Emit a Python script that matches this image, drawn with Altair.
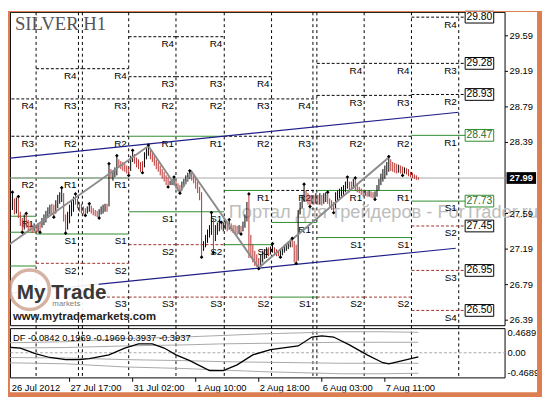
import altair as alt
import pandas as pd

# ---------------- data ----------------
HIGH = [
    27.39, 27.54, 27.72, 27.82, 27.76, 27.77, 27.77, 27.61, 27.54, 27.58,
    27.58, 27.52, 27.49, 27.46, 27.48, 27.46, 27.48, 27.49, 27.54, 27.58,
    27.62, 27.66, 27.69, 27.70, 27.69, 27.74, 27.80, 27.83, 27.87, 27.82,
    27.58, 27.61, 27.69, 27.74, 27.78, 27.80, 27.76, 27.72, 27.70, 27.67,
    27.65, 27.67, 27.69, 27.68, 27.65, 27.63, 27.62, 27.64, 27.67, 27.69,
    27.70, 27.70, 28.14, 28.09, 28.07, 28.11, 28.23, 28.20, 28.18, 28.17,
    28.15, 28.13, 28.11, 28.24, 28.29, 28.26, 28.22, 28.20, 28.17, 28.18,
    28.28, 28.33, 28.35, 28.31, 28.28, 28.24, 28.20, 28.17, 28.13, 28.09,
    28.06, 28.02, 28.00, 27.96, 27.98, 27.99, 27.96, 27.93, 27.91, 27.95,
    27.98, 28.02, 28.05, 28.06, 28.06, 28.03, 27.99, 27.95, 27.89, 27.83,
    27.28, 27.35, 27.41, 27.46, 27.59, 27.54, 27.46, 27.49, 27.52, 27.48,
    27.49, 27.51, 27.50, 27.51, 27.48, 27.46, 27.46, 27.45, 27.46, 27.45,
    27.50, 27.58, 27.72, 27.80, 27.35, 27.24, 27.17, 27.13, 27.09, 27.13,
    27.17, 27.19, 27.21, 27.21, 27.22, 27.24, 27.21, 27.19, 27.18, 27.19,
    27.21, 27.24, 27.26, 27.28, 27.30, 27.30, 27.28, 27.24, 27.63, 27.72,
    27.80, 27.91, 27.85, 27.82, 27.80, 27.80, 27.80, 27.82, 27.80, 27.82,
    27.80, 27.82, 27.83, 27.82, 27.76, 27.74, 27.72, 27.83, 27.85, 27.87,
    27.89, 27.91, 27.95, 27.99, 27.95, 27.95, 27.98, 27.98, 27.93, 27.89,
    27.87, 27.85, 27.85, 27.84, 27.85, 27.84, 27.83, 27.84, 27.91, 27.98,
    28.04, 28.09, 28.13, 28.17, 28.22, 28.20, 28.17, 28.16, 28.15, 28.14,
    28.13, 28.12, 28.11, 28.10, 28.09, 28.06, 28.05, 28.03, 28.02, 28.00,
]
LOW = [
    27.22, 27.35, 27.52, 27.63, 27.58, 27.59, 27.54, 27.45, 27.39, 27.41,
    27.43, 27.39, 27.39, 27.37, 27.39, 27.37, 27.38, 27.39, 27.43, 27.46,
    27.49, 27.54, 27.58, 27.58, 27.56, 27.59, 27.65, 27.70, 27.72, 27.50,
    27.38, 27.41, 27.48, 27.56, 27.61, 27.69, 27.65, 27.61, 27.59, 27.58,
    27.58, 27.59, 27.61, 27.59, 27.57, 27.56, 27.55, 27.55, 27.58, 27.59,
    27.61, 27.61, 27.67, 27.98, 27.96, 28.00, 28.02, 28.11, 28.09, 28.07,
    28.06, 28.04, 28.03, 28.07, 28.17, 28.15, 28.11, 28.09, 28.06, 28.06,
    28.11, 28.20, 28.24, 28.20, 28.17, 28.13, 28.09, 28.06, 28.02, 27.98,
    27.95, 27.91, 27.90, 27.91, 27.91, 27.91, 27.87, 27.84, 27.83, 27.85,
    27.89, 27.92, 27.95, 27.98, 27.96, 27.93, 27.87, 27.82, 27.74, 27.11,
    27.17, 27.21, 27.26, 27.32, 27.35, 27.16, 27.28, 27.35, 27.39, 27.41,
    27.39, 27.41, 27.39, 27.41, 27.39, 27.37, 27.37, 27.35, 27.36, 27.37,
    27.39, 27.43, 27.50, 27.09, 27.09, 27.04, 27.00, 26.99, 26.98, 27.00,
    27.04, 27.08, 27.09, 27.11, 27.13, 27.15, 27.12, 27.11, 27.11, 27.11,
    27.12, 27.15, 27.17, 27.19, 27.21, 27.21, 27.04, 27.04, 27.06, 27.58,
    27.65, 27.72, 27.72, 27.69, 27.68, 27.70, 27.69, 27.70, 27.69, 27.69,
    27.68, 27.70, 27.72, 27.70, 27.67, 27.63, 27.61, 27.65, 27.72, 27.76,
    27.78, 27.80, 27.83, 27.87, 27.83, 27.85, 27.87, 27.85, 27.83, 27.82,
    27.80, 27.78, 27.79, 27.78, 27.78, 27.77, 27.76, 27.76, 27.78, 27.85,
    27.91, 27.95, 27.98, 28.02, 28.06, 28.07, 28.06, 28.05, 28.04, 28.05,
    28.04, 28.03, 28.04, 28.03, 28.01, 28.00, 27.99, 27.98, 27.97, 27.97,
]
DIRECTION = (
    "uuuu" "duddduddddudud" "uuuuu" "dd" "uuuu" "dd" "uuuu" "dddddd" "uu" "dddd"
    "uuuu" "d" "u" "d" "uuu" "dddddd" "uu" "ddddd" "uuu" "dddddddddd" "uuu" "ddd"
    "uuuuu" "dddddd" "uuuuu" "d" "uuu" "d" "uu" "d" "u" "dddd" "u" "d" "uuu"
    "dddddd" "uuuu" "d" "uu" "ddd" "uuuuuu" "ddd" "uuuu" "ddd" "ududud" "uu"
    "dddd" "uuuuuuu" "dd" "u" "ddddd" "udu" "dd" "uuuuuuuu" "dddd" "u" "dd" "u"
    "ddddddd"
)
FRACTAL_HIGH = [3, 6, 10, 28, 35, 42, 52, 56, 64, 72, 85, 93, 104, 109, 113, 123,
                135, 145, 151, 163, 173, 177, 194]
FRACTAL_LOW = [8, 17, 24, 30, 40, 47, 62, 69, 82, 88, 99, 105, 119, 128, 139, 147,
               154, 166, 187, 201]

ZIGZAG_BAR = [0, 72, 88, 94, 128, 194]
ZIGZAG_PRICE = [27.22, 28.35, 27.83, 28.06, 26.98, 28.22]

CHANNEL_UP_BAR = [0, 229.5]
CHANNEL_UP_PRICE = [28.21, 28.73]
CHANNEL_LO_BAR = [0, 228]
CHANNEL_LO_PRICE = [26.69, 27.20]

DAY_SEPARATORS = [15, 36.5, 38.5, 62, 86, 110.5, 134.5, 155.5, 157.5, 181.5, 205.5, 229.5]
DAY_START = [0, 15, 38.5, 62, 86, 110.5, 134.5, 157.5, 181.5, 205.5]
DAY_END = [15, 38.5, 62, 86, 110.5, 134.5, 157.5, 181.5, 205.5, 233]
DAY_LABEL_AT = [15, 36.5, 62, 86, 110.5, 134.5, 155.5, 181.5, 205.5, 229.5]

# (label, price, style)  k = black dashed, r = brown dashed, g = green solid
PIVOTS = [
    [("R4", 28.88, "k"), ("R3", 28.46, "k"), ("R2", 27.99, "g"), ("R1", 27.56, "g"),
     ("", 27.38, "g"), ("", 27.00, "g"), ("", 26.65, "r")],
    [("R4", 29.22, "k"), ("R3", 28.88, "k"), ("R2", 28.46, "k"), ("R1", 27.99, "g"),
     ("S1", 27.36, "g"), ("S2", 27.03, "r"), ("", 26.65, "r")],
    [("R4", 29.22, "k"), ("R3", 28.88, "k"), ("R2", 28.46, "k"), ("R1", 27.99, "g"),
     ("S1", 27.36, "g"), ("S2", 27.03, "r"), ("S3", 26.65, "r")],
    [("R4", 29.58, "k"), ("R3", 29.13, "k"), ("R2", 28.88, "k"), ("R1", 28.46, "g"),
     ("S1", 27.61, "g"), ("S2", 27.24, "r"), ("S3", 26.65, "r")],
    [("R4", 29.58, "k"), ("R3", 29.13, "k"), ("R2", 28.88, "k"), ("R1", 28.46, "g"),
     ("S1", 27.61, "g"), ("S2", 27.24, "r"), ("S3", 26.65, "r")],
    [("R4", 29.13, "k"), ("R3", 28.88, "k"), ("R2", 28.46, "k"), ("R1", 27.85, "g"),
     ("S1", 27.24, "g"), ("S2", 26.65, "r")],
    [("R4", 28.88, "k"), ("R3", 28.46, "k"), ("R2", 27.85, "k"), ("R1", 27.49, "g"),
     ("S1", 26.65, "g")],
    [("R4", 29.28, "k"), ("R3", 28.92, "k"), ("R2", 28.46, "k"), ("R1", 27.85, "g"),
     ("S1", 27.32, "g"), ("S2", 26.65, "r")],
    [("R4", 29.28, "k"), ("R3", 28.92, "k"), ("R2", 28.46, "k"), ("R1", 27.85, "g"),
     ("S1", 27.32, "g"), ("S2", 26.65, "r")],
    [("R4", 29.80, "k"), ("R3", 29.28, "k"), ("R2", 28.93, "k"), ("R1", 28.47, "g"),
     ("S1", 27.73, "g"), ("S2", 27.45, "r"), ("S3", 26.95, "r"), ("S4", 26.50, "r")],
]

CURRENT_PRICE = 27.99
PRICE_TICKS = [29.59, 29.19, 28.79, 28.39, 27.59, 27.19, 26.79, 26.39]
TIME_TICK_BAR = [0, 32, 64, 96, 128, 160, 192]
TIME_TICK_TEXT = ["26 Jul 2012", "27 Jul 17:00", "31 Jul 02:00", "1 Aug 10:00",
                  "2 Aug 18:00", "6 Aug 03:00", "7 Aug 11:00"]

DF_BAR = [0, 7, 15, 22, 30, 37, 42, 52, 60, 67, 74, 80, 86, 93, 103, 110, 117, 125,
          134, 148, 155, 160, 166, 174, 183, 191, 194, 201, 209]
DF_VALUE = [0.11, 0.09, -0.02, -0.09, -0.13, -0.13, -0.11, -0.04, 0.09, 0.17, 0.17,
            0.09, -0.04, -0.15, -0.34, -0.34, -0.23, -0.04, 0.06, 0.13, 0.30, 0.32,
            0.30, 0.15, -0.04, -0.19, -0.21, -0.15, -0.08]
BAND_BAR = [0, 30, 60, 90, 110, 130, 150, 170, 190, 209]
BAND_UP2 = [0.19, 0.21, 0.27, 0.30, 0.33, 0.36, 0.38, 0.40, 0.40, 0.39]
BAND_UP1 = [0.09, 0.10, 0.13, 0.15, 0.17, 0.18, 0.19, 0.20, 0.20, 0.20]
BAND_LO1 = [-0.09, -0.10, -0.13, -0.15, -0.17, -0.18, -0.19, -0.20, -0.20, -0.20]
BAND_LO2 = [-0.19, -0.21, -0.27, -0.30, -0.33, -0.36, -0.38, -0.40, -0.40, -0.39]
DF_TEXT = "DF -0.0842 0.1969 -0.1969 0.3937 -0.3937"
DF_TICKS = [0.4689, 0.0, -0.4689]
DF_TICK_TEXT = ["0.4689", "0.00", "-0.4689"]

# ---------------- scales / helpers ----------------
W, H = 542, 392
X_DOM = [0.75, 271.75]          # 2 px per hourly bar
P_DOM = [25.5246, 29.8705]      # price panel
D_DOM = [-0.8443, 6.510]        # DF indicator panel
FONT = "Liberation Sans"
GREEN = "#2e8b2e"
BROWN = "#a0302a"
RED = "#b8312f"


def X(f):
    return alt.X(f, type="quantitative",
                 scale=alt.Scale(domain=X_DOM, nice=False, zero=False), axis=None)


def YP(f):
    return alt.Y(f, type="quantitative",
                 scale=alt.Scale(domain=P_DOM, nice=False, zero=False), axis=None)


def YD(f):
    return alt.Y(f, type="quantitative",
                 scale=alt.Scale(domain=D_DOM, nice=False, zero=False), axis=None)


one = pd.DataFrame({"k": [0]})


def rect(x1, x2, y1, y2, **kw):
    return alt.Chart(one).mark_rect(**kw).encode(
        x=alt.value(x1), x2=alt.value(x2), y=alt.value(y1), y2=alt.value(y2))


def label(txt, x, y, **kw):
    return alt.Chart(one).mark_text(text=txt, **kw).encode(x=alt.value(x), y=alt.value(y))


n = min(len(HIGH), len(LOW))
bars = pd.DataFrame({
    "i": list(range(n)),
    "hi": HIGH[:n],
    "lo": LOW[:n],
    "dir": [DIRECTION[k] if k < len(DIRECTION) else "d" for k in range(n)],
})
frac = pd.DataFrame(
    [{"i": k, "p": HIGH[k], "t": "h"} for k in FRACTAL_HIGH if k < n]
    + [{"i": k, "p": LOW[k], "t": "l"} for k in FRACTAL_LOW if k < n])

rows = []
for d, lv in enumerate(PIVOTS):
    for name, p, st in lv:
        rows.append({"x": DAY_START[d], "x2": DAY_END[d], "lx": DAY_LABEL_AT[d],
                     "p": p, "name": name, "st": st})
piv = pd.DataFrame(rows)

tags = pd.DataFrame({"p": [lv[1] for lv in PIVOTS[-1]], "st": [lv[2] for lv in PIVOTS[-1]]})
tags["txt"] = [f"{v:.2f}" for v in tags["p"]]

layers = []

# panel borders
layers.append(rect(2.5, 504.5, 1.5, 319.5, fill="white", stroke="black", strokeWidth=1))
layers.append(rect(2.5, 504.5, 322.5, 372.5, fill="white", stroke="black", strokeWidth=1))

# watermark
layers.append(label("Портал для трейдеров - ForTrader.ru", 224, 204, align="left",
                    baseline="middle", font=FONT, fontSize=18.5, color="#bdbdbd"))

# vertical day separators
layers.append(alt.Chart(pd.DataFrame({"i": DAY_SEPARATORS})).mark_rule(
    color="black", strokeWidth=1, strokeDash=[3, 3]).encode(
    x=X("i"), y=alt.value(1.5), y2=alt.value(372.5)))

# pivot lines
for st, col, dash in [("k", "black", [3, 2]), ("r", BROWN, [3, 2]), ("g", GREEN, None)]:
    sub = piv[piv["st"] == st]
    kw = {"color": col, "strokeWidth": 1}
    if dash:
        kw["strokeDash"] = dash
    layers.append(alt.Chart(sub).mark_rule(**kw).encode(x=X("x"), x2="x2:Q", y=YP("p")))

# pivot labels
layers.append(alt.Chart(piv[piv["name"] != ""]).mark_text(
    align="right", baseline="middle", dx=-2, dy=7.5, font=FONT, fontSize=10,
    color="black").encode(x=X("lx"), y=YP("p"), text="name:N"))

# current price line
layers.append(alt.Chart(pd.DataFrame({"p": [CURRENT_PRICE]})).mark_rule(
    color="#a8a8a8", strokeWidth=1).encode(x=alt.value(2.5), x2=alt.value(504.5), y=YP("p")))

# channel lines
layers.append(alt.Chart(pd.DataFrame({"i": CHANNEL_UP_BAR, "p": CHANNEL_UP_PRICE})).mark_line(
    color="#1f1f8a", strokeWidth=1.2).encode(x=X("i"), y=YP("p")))
layers.append(alt.Chart(pd.DataFrame({"i": CHANNEL_LO_BAR, "p": CHANNEL_LO_PRICE})).mark_line(
    color="#1f1f8a", strokeWidth=1.2).encode(x=X("i"), y=YP("p")))

# price bars
for dch, col in [("u", "black"), ("d", RED)]:
    layers.append(alt.Chart(bars[bars["dir"] == dch]).mark_rule(
        color=col, strokeWidth=1).encode(x=X("i"), y=YP("lo"), y2="hi:Q"))

# zigzag
layers.append(alt.Chart(pd.DataFrame({"i": ZIGZAG_BAR, "p": ZIGZAG_PRICE})).mark_line(
    color="#8c8c8c", strokeWidth=2).encode(x=X("i"), y=YP("p")))

# fractals
layers.append(alt.Chart(frac[frac["t"] == "h"]).mark_point(
    shape="diamond", filled=True, color="black", size=14, yOffset=-1, opacity=1).encode(
    x=X("i"), y=YP("p")))
layers.append(alt.Chart(frac[frac["t"] == "l"]).mark_point(
    shape="diamond", filled=True, color="black", size=14, yOffset=1, opacity=1).encode(
    x=X("i"), y=YP("p")))

# price tags of the current day levels
for st, col in [("k", "black"), ("r", "black"), ("g", GREEN)]:
    sub = tags[tags["st"] == st]
    layers.append(alt.Chart(sub).transform_calculate(
        top="datum.p + 0.066", bot="datum.p - 0.066").mark_rect(
        fill="white", stroke=col, strokeWidth=1).encode(
        x=alt.value(464), x2=alt.value(493), y=YP("top"), y2="bot:Q"))
    layers.append(alt.Chart(sub).mark_text(
        align="center", baseline="middle", font=FONT, fontSize=10.5,
        color=("#2a6e2a" if st == "g" else "black")).encode(
        x=alt.value(478.5), y=YP("p"), text="txt:N"))

# logo
layers.append(rect(3, 92, 268, 306, fill="white", opacity=0.92))
layers.append(rect(3, 50, 262, 268, fill="white", opacity=0.92))
layers.append(alt.Chart(one).mark_point(
    shape="circle", filled=False, size=1600, stroke="#cfa594", strokeWidth=3.5,
    opacity=0.85).encode(x=alt.value(22), y=alt.value(283)))
layers.append(label("My Trade", 9, 292, align="left", baseline="alphabetic", font=FONT,
                    fontSize=21, fontWeight="bold", color="#383838"))
layers.append(label("markets", 45, 298, align="left", baseline="middle", font=FONT,
                    fontSize=8, color="#808080"))
layers.append(label("www.mytrademarkets.com", 5, 311, align="left", baseline="middle",
                    font=FONT, fontSize=11.5, fontWeight="bold", color="#222222"))

# title
layers.append(label("SILVER H1", 7, 19, align="left", baseline="alphabetic",
                    font="Liberation Serif", fontSize=19, color="#555555"))

# right price axis
pt = pd.DataFrame({"p": PRICE_TICKS})
pt["txt"] = [f"{v:.2f}" for v in PRICE_TICKS]
layers.append(alt.Chart(pt).mark_rule(color="black", strokeWidth=1).encode(
    x=alt.value(504.5), x2=alt.value(507.5), y=YP("p")))
layers.append(alt.Chart(pt).mark_text(align="left", baseline="middle", font=FONT,
                                      fontSize=9.5, color="black").encode(
    x=alt.value(509), y=YP("p"), text="txt:N"))
cp = pd.DataFrame({"p": [CURRENT_PRICE], "txt": [f"{CURRENT_PRICE:.2f}"]})
layers.append(alt.Chart(cp).transform_calculate(
    top="datum.p + 0.066", bot="datum.p - 0.066").mark_rect(color="black").encode(
    x=alt.value(506), x2=alt.value(536), y=YP("top"), y2="bot:Q"))
layers.append(alt.Chart(cp).mark_text(align="left", baseline="middle", font=FONT,
                                      fontSize=9.5, fontWeight="bold", color="white").encode(
    x=alt.value(509), y=YP("p"), text="txt:N"))

# DF indicator panel
bands = pd.DataFrame({"i": BAND_BAR * 4,
                      "v": BAND_UP2 + BAND_UP1 + BAND_LO1 + BAND_LO2,
                      "g": ["a"] * 10 + ["b"] * 10 + ["c"] * 10 + ["d"] * 10})
layers.append(alt.Chart(bands).mark_line(color="#a8a8a8", strokeWidth=1).encode(
    x=X("i"), y=YD("v"), detail="g:N"))
layers.append(alt.Chart(pd.DataFrame({"v": [0.0]})).mark_rule(
    color="#a8a8a8", strokeWidth=1, strokeDash=[3, 2]).encode(
    x=alt.value(2.5), x2=alt.value(504.5), y=YD("v")))
layers.append(alt.Chart(pd.DataFrame({"i": DF_BAR, "v": DF_VALUE})).mark_line(
    color="black", strokeWidth=1.3).encode(x=X("i"), y=YD("v")))
layers.append(label(DF_TEXT, 5, 332, align="left", baseline="middle", font=FONT,
                    fontSize=9.5, color="black"))
dt = pd.DataFrame({"v": DF_TICKS, "txt": DF_TICK_TEXT, "dy": [5, 0, -4]})
for k in range(3):
    layers.append(alt.Chart(dt.iloc[[k]]).mark_text(
        align="left", baseline="middle", font=FONT, fontSize=9.5, color="black",
        dy=int(dt["dy"][k])).encode(x=alt.value(507), y=YD("v"), text="txt:N"))

# time axis
tt = pd.DataFrame({"i": TIME_TICK_BAR, "txt": TIME_TICK_TEXT})
tt["lx"] = [max(v, 2.2) for v in TIME_TICK_BAR]
layers.append(alt.Chart(tt).mark_rule(color="black", strokeWidth=1).encode(
    x=X("i"), y=alt.value(372.5), y2=alt.value(376.5)))
layers.append(alt.Chart(tt).mark_text(align="left", baseline="middle", dx=1, font=FONT,
                                      fontSize=9.5, color="black").encode(
    x=X("lx"), y=alt.value(383), text="txt:N"))

# orange frame
FRAME = "#dc7d52"
layers.append(rect(0, 2, 0, 392, fill=FRAME))
layers.append(rect(537, 542, 0, 392, fill=FRAME))
layers.append(rect(0, 542, 387, 392, fill=FRAME))
layers.append(rect(0, 542, 0, 1, fill=FRAME))

chart = alt.layer(*layers).resolve_scale(y="independent").properties(
    width=W, height=H, padding=0,
    autosize=alt.AutoSizeParams(type="none"), background="white",
).configure_view(stroke=None)

chart.save("out.html", embed_options={"renderer": "svg", "actions": False})
